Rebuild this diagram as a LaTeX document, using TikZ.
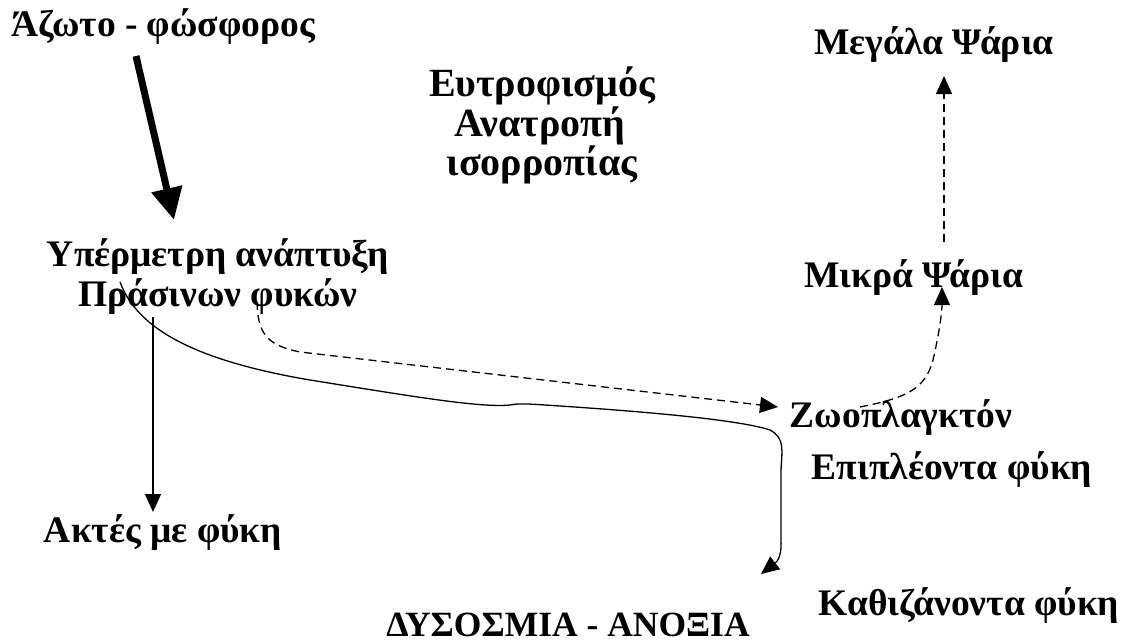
\documentclass[tikz,border=0pt]{standalone}
\usepackage{fontspec}
\setmainfont{Liberation Serif}
\usetikzlibrary{arrows.meta}
\begin{document}
\begin{tikzpicture}[x=1pt,y=-1pt,
  lbl/.style={font=\fontsize{37.5}{44}\selectfont\bfseries, inner sep=0pt, anchor=base},
  midlbl/.style={font=\fontsize{40}{46}\selectfont\bfseries, inner sep=0pt, anchor=base},
  thinline/.style={line width=1.3pt},
  tiparrow/.style={-{Triangle[length=18pt,width=16pt]}},
  dsh/.style={dash pattern=on 8pt off 5pt},
]
\useasboundingbox (0,0) rectangle (1138,642);
% labels
\node[lbl] (azoto) at (163,37) {Άζωτο - φώσφορος};
\node[midlbl] (eutro1) at (542,96) {Ευτροφισμός};
\node[midlbl] (eutro2) at (540,136) {Ανατροπή};
\node[midlbl] (eutro3) at (542,175) {ισορροπίας};
\node[lbl] (megala) at (934,55) {Μεγάλα Ψάρια};
\node[lbl] (ypermetri) at (218,266) {Υπέρμετρη ανάπτυξη};
\node[lbl] (prasinon) at (218,306) {Πράσινων φυκών};
\node[lbl] (mikra) at (914,287) {Μικρά Ψάρια};
\node[lbl] (zoo) at (901,427) {Ζωοπλαγκτόν};
\node[lbl] (epipl) at (952,479) {Επιπλέοντα φύκη};
\node[lbl] (aktes) at (163,542) {Ακτές με φύκη};
\node[lbl] (kathiz) at (969,615) {Καθιζάνοντα φύκη};
\node[lbl,font=\fontsize{35.5}{42}\selectfont\bfseries] (dys) at (568,636) {ΔΥΣΟΣΜΙΑ - ΑΝΟΞΙΑ};
% connector end points
\coordinate (azS) at (136,56);
\coordinate (azT) at (174,220);
\coordinate (vS) at (153,317);
\coordinate (vT) at (153,512);
\coordinate (cS) at (120,282);
\coordinate (cT) at (761,574);
\coordinate (dS) at (257,302);
\coordinate (dT) at (778,407);
\coordinate (zS) at (860,407);
\coordinate (zT) at (942,287);
\coordinate (mS) at (944,242);
\coordinate (mT) at (944,76);
% thick arrow
\draw[line width=7pt,-{Triangle[length=32pt,width=30pt]}] (azS) -- (azT);
% vertical arrow to shores
\draw[thinline,tiparrow] (vS) -- (vT);
% long solid curve
\draw[thinline,tiparrow] (cS) .. controls (135,322) and (180,358) .. (310,380)
  .. controls (410,396) and (480,408) .. (510,405)
  .. controls (520,403) and (530,404) .. (560,406)
  .. controls (650,412) and (740,420) .. (770,430)
  .. controls (785,438) and (782,450) .. (781,470)
  -- (781,540) .. controls (782,560) and (775,563) .. (cT);
% dashed curve to zooplankton
\draw[thinline,dsh,tiparrow] (dS) .. controls (258,332) and (265,345) .. (300,352) -- (dT);
% dashed zooplankton -> small fish
\draw[thinline,dsh,tiparrow] (zS) .. controls (905,398) and (925,390) .. (933,360)
  .. controls (940,330) and (942,310) .. (zT);
% dashed small fish -> big fish
\draw[thinline,dsh,tiparrow] (mS) -- (mT);
\end{tikzpicture}
\end{document}
